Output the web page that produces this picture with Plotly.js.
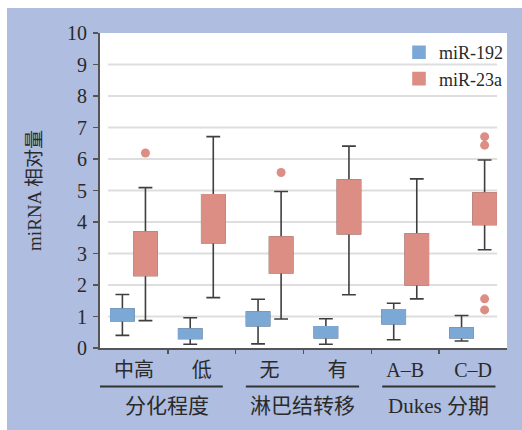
<!DOCTYPE html>
<html><head><meta charset="utf-8">
<script src="https://cdn.plot.ly/plotly-3.0.1.min.js"></script>
<style>html,body{margin:0;padding:0;background:#fff;} #chart{width:522px;height:430px;}</style>
</head><body><div id="chart"></div>
<script>
// ---- data ----
const categories = ['中高', '低', '无', '有', 'A–B', 'C–D'];
const groupLabels = ['分化程度', '淋巴结转移', 'Dukes 分期'];
const groupStart = [0, 2, 4];
const yTicks = [0, 1, 2, 3, 4, 5, 6, 7, 8, 9, 10];
const gridTicks = [1, 2, 3, 4, 5, 6, 7, 8, 9];

const mir192_lower  = [0.40, 0.12, 0.13, 0.12, 0.26, 0.22];
const mir192_q1     = [0.87, 0.30, 0.71, 0.33, 0.77, 0.33];
const mir192_median = [1.05, 0.45, 0.92, 0.50, 1.00, 0.48];
const mir192_q3     = [1.24, 0.60, 1.14, 0.67, 1.21, 0.63];
const mir192_upper  = [1.70, 0.96, 1.55, 0.93, 1.42, 1.03];

const mir23a_lower  = [0.87, 1.60, 0.92, 1.69, 1.56, 3.12];
const mir23a_q1     = [2.30, 3.34, 2.39, 3.63, 2.01, 3.92];
const mir23a_median = [3.00, 4.10, 2.95, 4.50, 2.80, 4.40];
const mir23a_q3     = [3.68, 4.86, 3.52, 5.33, 3.62, 4.92];
const mir23a_upper  = [5.09, 6.71, 4.97, 6.41, 5.37, 5.97];

const mir23a_outlierCat = [0, 2, 5, 5, 5, 5];
const mir23a_outlierVal = [6.19, 5.57, 6.71, 6.44, 1.56, 1.21];

// ---- styling ----
const BLUE = '#7ca8d5', RED = '#dc8e84', WHISK = '#3f3f3f';
const FONT = "'Liberation Serif', 'Noto Sans CJK SC', serif";
const TXT = '#2a2a2a';
const OFF = 0.17, BW = 0.34;
const idx = categories.map((c, i) => i);
const pos192 = idx.map(i => i - OFF);
const pos23a = idx.map(i => i + OFF);

function whiskerTrace(name, x, lo, q1, med, q3, hi, col) {
  return {type: 'box', name, x, lowerfence: lo, q1, median: med, q3, upperfence: hi,
    width: BW, whiskerwidth: 0.6, boxpoints: false, fillcolor: col,
    line: {color: WHISK, width: 1.6}, showlegend: false, hoverinfo: 'skip'};
}
function coverTrace(name, x, q1, q3, col) {
  return {type: 'box', name, x, lowerfence: q1, q1, median: q1, q3, upperfence: q3,
    width: BW, whiskerwidth: 0, boxpoints: false, fillcolor: col,
    line: {color: col, width: 1.6}, showlegend: true, hoverinfo: 'skip'};
}

const traces = [
  whiskerTrace('miR-192', pos192, mir192_lower, mir192_q1, mir192_median, mir192_q3, mir192_upper, BLUE),
  whiskerTrace('miR-23a', pos23a, mir23a_lower, mir23a_q1, mir23a_median, mir23a_q3, mir23a_upper, RED),
  coverTrace('miR-192', pos192, mir192_q1, mir192_q3, BLUE),
  coverTrace('miR-23a', pos23a, mir23a_q1, mir23a_q3, RED),
  {type: 'scatter', mode: 'markers', xaxis: 'x2', yaxis: 'y',
   x: mir23a_outlierCat.map(i => i + OFF), y: mir23a_outlierVal,
   marker: {color: RED, size: 9}, showlegend: false, hoverinfo: 'skip'}
];

// pixel helpers for decorations (plot area: x 100..507, y 33..348)
const L = 100, R = 507, T = 33, B = 348;
const px2x = p => (p - L) / (R - L);
const py2y = p => (B - p) / (B - T);

const shapes = [];
shapes.push({type: 'rect', xref: 'paper', yref: 'paper', x0: px2x(0), x1: px2x(522), y0: py2y(8), y1: py2y(0), fillcolor: '#fff', line: {width: 0}});
shapes.push({type: 'rect', xref: 'paper', yref: 'paper', x0: px2x(0), x1: px2x(7), y0: py2y(430), y1: py2y(0), fillcolor: '#fff', line: {width: 0}});
gridTicks.forEach(v => shapes.push({type: 'line', layer: 'below', xref: 'x', yref: 'y',
  x0: -0.38, x1: 5.355, y0: v, y1: v, line: {color: '#dedede', width: 2}}));
const ulStart = [-0.53, -0.35, -0.34], ulEnd = [1.31, 1.32, 1.33];
groupStart.forEach((s, k) => shapes.push({type: 'line', xref: 'x', yref: 'paper',
  x0: s + ulStart[k], x1: s + ulEnd[k], y0: py2y(386.5), y1: py2y(386.5), line: {color: '#333', width: 1.8}}));

const annotations = groupStart.map((s, k) => ({xref: 'x', yref: 'paper', x: s + 0.49, y: py2y(406),
  xanchor: 'center', yanchor: 'middle', showarrow: false, text: groupLabels[k],
  font: {family: FONT, size: 21, color: TXT}}));

const layout = {
  width: 522, height: 430,
  margin: {l: L, r: 522 - R, t: T, b: 430 - B, pad: 0},
  paper_bgcolor: '#aebde0', plot_bgcolor: '#ffffff',
  boxmode: 'overlay',
  font: {family: FONT, color: TXT},
  xaxis: {range: [-0.5, 5.5], tickmode: 'array', tickvals: idx, ticktext: categories, ticks: '',
    showline: true, linecolor: '#555', linewidth: 2, showgrid: false, zeroline: false,
    tickfont: {family: FONT, size: 20, color: TXT}, ticklabelstandoff: 3, fixedrange: true},
  xaxis2: {overlaying: 'x', anchor: 'y', side: 'bottom', range: [-0.5, 5.5], tickmode: 'array',
    tickvals: [0.5, 1.5, 2.5, 3.5, 4.5], ticks: 'outside', ticklen: 5, tickwidth: 1.6, tickcolor: '#555',
    showticklabels: false, showgrid: false, zeroline: false, showline: false, fixedrange: true},
  yaxis: {range: [0, 10], tickmode: 'array', tickvals: yTicks, ticks: 'outside', ticklen: 5, tickwidth: 1.6,
    tickcolor: '#555', showline: true, linecolor: '#555', linewidth: 2, showgrid: false, zeroline: false,
    tickfont: {family: FONT, size: 20, color: TXT}, ticklabelstandoff: 2,
    title: {text: 'miRNA 相对量', font: {family: FONT, size: 19, color: TXT}, standoff: 20}, fixedrange: true},
  legend: {x: px2x(399), y: py2y(34), xanchor: 'left', yanchor: 'top', bgcolor: 'rgba(0,0,0,0)',
    font: {family: FONT, size: 18, color: TXT}, borderwidth: 0},
  shapes, annotations
};

Plotly.newPlot('chart', traces, layout, {staticPlot: true, displayModeBar: false});
</script>
</body></html>
